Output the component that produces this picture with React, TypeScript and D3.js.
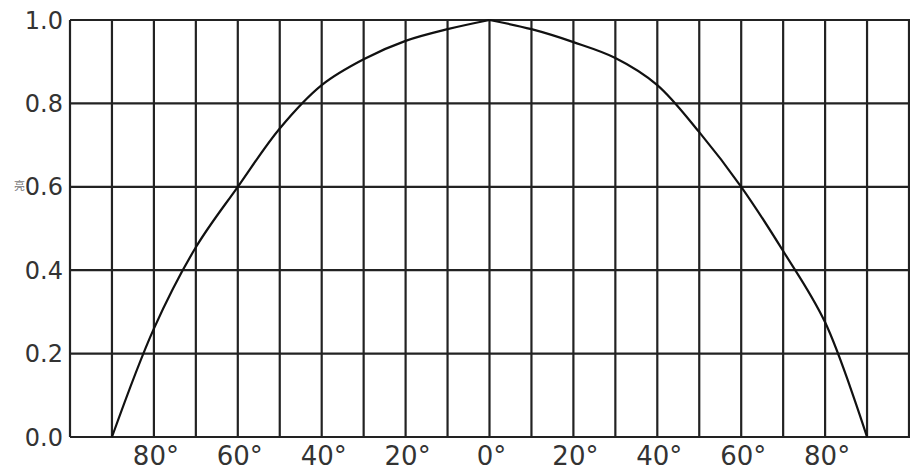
import React, { useEffect, useRef } from 'react'
import * as d3 from 'd3'

// angle in degrees (negative = left side), relative intensity
const angles = [-90, -80, -70, -60, -50, -40, -30, -20, -10, 0, 10, 20, 30, 40, 50, 60, 70, 80, 90]
const intensity = [0, 0.26, 0.455, 0.6, 0.74, 0.844, 0.906, 0.95, 0.978, 1.0, 0.978, 0.947, 0.909, 0.844, 0.731, 0.6, 0.446, 0.275, 0]

const gridAngles = d3.range(-100, 101, 10)
const xTickAngles = [-80, -60, -40, -20, 0, 20, 40, 60, 80]
const yTicks = [0, 0.2, 0.4, 0.6, 0.8, 1.0]

const W = 910
const H = 472

function App() {
  const svgRef = useRef(null)

  useEffect(() => {
    const svg = d3.select(svgRef.current)
    svg.selectAll('*').remove()

    const x = d3.scaleLinear().domain([-100, 100]).range([70, 909])
    const y = d3.scaleLinear().domain([0, 1]).range([437, 20])

    const grid = svg.append('g').attr('stroke', '#222').attr('stroke-width', 2.2)
    grid.selectAll('line.v')
      .data(gridAngles)
      .join('line')
      .attr('class', 'v')
      .attr('x1', d => x(d)).attr('x2', d => x(d))
      .attr('y1', y(1)).attr('y2', y(0))
    grid.selectAll('line.h')
      .data(yTicks)
      .join('line')
      .attr('class', 'h')
      .attr('x1', x(-100)).attr('x2', W)
      .attr('y1', d => y(d)).attr('y2', d => y(d))

    svg.append('g')
      .selectAll('text')
      .data(yTicks)
      .join('text')
      .attr('x', 63)
      .attr('y', d => y(d))
      .attr('dy', '0.36em')
      .attr('text-anchor', 'end')
      .attr('font-family', 'DejaVu Sans')
      .attr('font-size', 24)
      .attr('fill', '#333')
      .text(d => d.toFixed(1))

    svg.append('g')
      .selectAll('text')
      .data(xTickAngles)
      .join('text')
      .attr('x', d => x(d) + 2)
      .attr('y', 465)
      .attr('text-anchor', 'middle')
      .attr('font-family', 'DejaVu Sans')
      .attr('font-size', 26)
      .attr('fill', '#333')
      .text(d => `${Math.abs(d)}°`)

    svg.append('text')
      .attr('x', 14)
      .attr('y', 190)
      .attr('font-family', 'Noto Sans CJK SC')
      .attr('font-size', 11)
      .attr('fill', '#777')
      .text('亮')

    const pts = angles.map((a, i) => [a, intensity[i]])
    const line = d3.line()
      .x(d => x(d[0]))
      .y(d => y(d[1]))
      .curve(d3.curveCatmullRom.alpha(0.5))

    // each side drawn separately so the peak at 0° stays pointed
    const halves = [pts.filter(d => d[0] <= 0), pts.filter(d => d[0] >= 0)]
    svg.append('g')
      .selectAll('path')
      .data(halves)
      .join('path')
      .attr('fill', 'none')
      .attr('stroke', '#111')
      .attr('stroke-width', 2.2)
      .attr('stroke-linejoin', 'round')
      .attr('d', d => line(d))
  }, [])

  return (
    <div style={{ position: 'absolute', left: 0, top: 0, background: '#fff' }}>
      <svg ref={svgRef} width={W} height={H} />
    </div>
  )
}

export default App
